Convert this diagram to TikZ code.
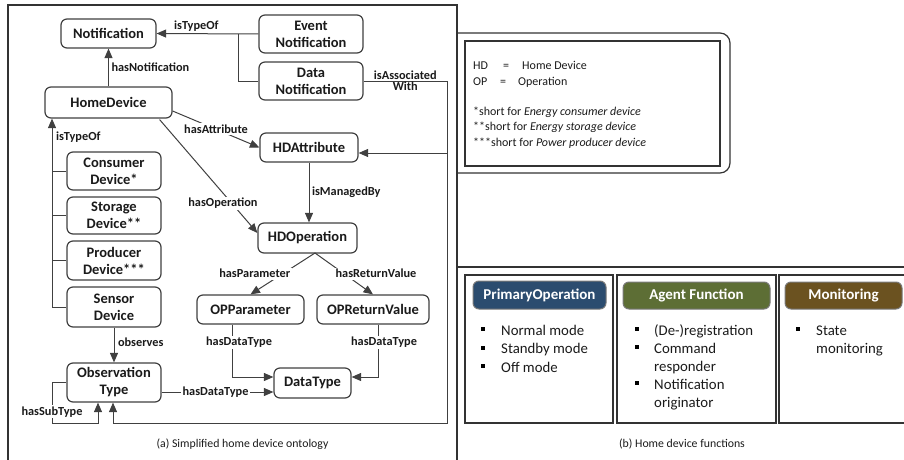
\documentclass[tikz,border=0pt]{standalone}
\usepackage{fontspec}
\setmainfont{Carlito}
\usetikzlibrary{arrows.meta,calc}
\definecolor{ln}{HTML}{404040}
\definecolor{fr}{HTML}{333333}
\definecolor{txt}{HTML}{1A1A1A}
\definecolor{pblue}{HTML}{2B4C6F}
\definecolor{pgreen}{HTML}{5D6E35}
\definecolor{pbrown}{HTML}{6B5220}
\begin{document}
\begin{tikzpicture}[x=1pt,y=-1pt,
  box/.style={draw=ln, line width=1.2pt, rounded corners=6pt, fill=white, align=center,
    font=\fontsize{14.5}{17}\selectfont\bfseries, text=txt, inner sep=0pt},
  sz/.style 2 args={minimum width=#1pt, minimum height=#2pt},
  lbl/.style={font=\fontsize{12.3}{13}\selectfont\bfseries, text=txt, fill=white, inner sep=1.5pt},
  nof/.style={fill=none},
  con/.style={draw=ln, line width=1pt},
  arr/.style={con, -{Triangle[length=9.5pt,width=8pt]}},
  frame/.style={draw=fr, line width=1.2pt},
  leg/.style={font=\fontsize{12}{13}\selectfont, text=txt, anchor=base west, inner sep=0pt},
  hdr/.style={draw=ln!70, line width=1pt, rounded corners=6pt, text=white,
    font=\fontsize{15}{17}\selectfont\bfseries, inner sep=0pt},
  itm/.style={font=\fontsize{14.8}{17}\selectfont, text=txt, anchor=base west, inner sep=0pt},
  bul/.style={fill=black, minimum size=4pt, inner sep=0pt},
  captxt/.style={font=\fontsize{11.8}{13}\selectfont, text=txt, anchor=base, inner sep=0pt}
]
\useasboundingbox (0,0) rectangle (904,460);

% frames
\draw[frame] (8,470) -- (8,5) -- (457,5) -- (457,470);
\draw[frame] (457,267) -- (915,267);
\draw[frame, rounded corners=10pt] (457,33) -- (730,33) -- (730,173) -- (457,173);
\draw[frame] (465,41) rectangle (720,166);

% nodes
\node[box, sz={95}{29}] (notif) at (108.5,33.5) {Notification};
\node[box, sz={104}{38}] (event) at (311,34) {Event\\Notification};
\node[box, sz={104}{38}] (data) at (311,81) {Data\\Notification};
\node[box, sz={127}{31}] (home) at (108.5,102.5) {HomeDevice};
\node[box, sz={98}{29}] (hdattr) at (309,147.5) {HDAttribute};
\node[box, sz={94}{38}] (cons) at (114,171) {Consumer\\Device*};
\node[box, sz={94}{37}] (stor) at (114,215.5) {Storage\\Device**};
\node[box, sz={94}{39}] (prod) at (114,260.5) {Producer\\Device***};
\node[box, sz={94}{40}] (sens) at (114,307) {Sensor\\Device};
\node[box, sz={99}{30}] (hdop) at (307.5,238) {HDOperation};
\node[box, sz={107}{29}] (opp) at (250.5,309.5) {OPParameter};
\node[box, sz={112}{29}] (opr) at (373,309.5) {OPReturnValue};
\node[box, sz={94}{39}] (obs) at (114,382.5) {Observation\\Type};
\node[box, sz={77}{30}] (dt) at (312.5,383) {DataType};

% coordinates
\coordinate (j1) at (238,34);
\coordinate (c1) at (447,81);
\coordinate (c2) at (447,423);
\coordinate (c3) at (113,423);
\coordinate (c4) at (447,153);
\coordinate (t1) at (52,307);
\coordinate (s1) at (52,423);
\coordinate (sp) at (315,253);

% connectors
\draw[arr] (event.west) -- node[lbl, nof, above=0pt, pos=0.61]{isTypeOf} (notif.east);
\draw[con] (data.west) -| (j1);
\draw[arr] (home.north) -- node[lbl, nof, right=1pt]{hasNotification} (notif.south);
\draw[arr] (data.east) -- node[lbl, nof, above=-1pt]{isAssociated} node[lbl, nof, below=-1pt]{With} (c1) -- (c2) -- (c3) -- (c3 |- obs.south);
\draw[arr] (c4) -- (c4 -| hdattr.east);
\draw[arr] ($(home.east)+(0,8.5)$) -- node[lbl]{hasAttribute} (hdattr.west);
\draw[arr] ($(home.south east)+(-13,1)$) -- node[lbl, pos=0.74, xshift=-9]{hasOperation} ($(hdop.west)+(0,-5)$);
\draw[arr] (hdattr.south) -- node[lbl, nof, right=1pt]{isManagedBy} (hdattr.south |- hdop.north);
\draw[arr] (sp) -- node[lbl, xshift=-28]{hasParameter} (opp.north);
\draw[arr] (sp) -- node[lbl, xshift=32]{hasReturnValue} (opr.north);
\draw[arr] ($(opp.south)+(-18.5,0)$) |- node[lbl, pos=0.17, xshift=7]{hasDataType} ($(dt.west)+(0,-6)$);
\draw[arr] ($(opr.south)+(5,0)$) |- node[lbl, pos=0.17, xshift=6]{hasDataType} ($(dt.east)+(0,-6)$);
\draw[arr] ($(obs.east)+(0,9.5)$) -- node[lbl, xshift=-2]{hasDataType} ($(dt.west)+(0,9)$);
\draw[arr] (sens.south) -- node[lbl, nof, right=2pt, pos=0.42]{observes} (obs.north);
\draw[arr] (sens.west) -- (t1) -- node[lbl, nof, right=2pt, pos=0.9]{isTypeOf} (t1 |- home.south);
\draw[con] (cons.west) -- (cons.west -| t1);
\draw[con] (stor.west) -- (stor.west -| t1);
\draw[con] (prod.west) -- (prod.west -| t1);
\draw[arr] (obs.west) -| node[lbl, pos=0.86]{hasSubType} (s1) -| ($(obs.south)+(-16,0)$);

% legend
\node[leg] (l1) at (473,70) {HD};
\node[leg] (l2) at (503,70) {=};
\node[leg] (l3) at (522,70) {Home Device};
\node[leg] (l4) at (473,85) {OP};
\node[leg] (l5) at (500,85) {=};
\node[leg] (l6) at (518,85) {Operation};
\node[leg] (l7) at (473,115) {*short for \textit{Energy consumer device}};
\node[leg] (l8) at (473,130.5) {**short for \textit{Energy storage device}};
\node[leg] (l9) at (473,146) {***short for \textit{Power producer device}};

% function boxes
\draw[frame] (465,275) rectangle (613,423);
\draw[frame] (617,275) rectangle (776,423);
\draw[frame] (779,275) rectangle (915,423);
\node[hdr, fill=pblue, sz={133}{28}] (h1) at (539.5,295) {PrimaryOperation};
\node[hdr, fill=pgreen, sz={147}{27}] (h2) at (696.5,295.5) {Agent Function};
\node[hdr, fill=pbrown, sz={117}{27}] (h3) at (843.5,295.5) {Monitoring};

\node[bul] (b1) at (483,329) {};
\node[bul] (b2) at (483,347.5) {};
\node[bul] (b3) at (483,366) {};
\node[itm] (i1) at (501,335) {Normal mode};
\node[itm] (i2) at (501,353.5) {Standby mode};
\node[itm] (i3) at (501,372) {Off mode};

\node[bul] (b4) at (637,329) {};
\node[bul] (b5) at (637,347) {};
\node[bul] (b6) at (637,383) {};
\node[itm] (i4) at (654,335) {(De-)registration};
\node[itm] (i5) at (654,353) {Command};
\node[itm] (i6) at (654,371) {responder};
\node[itm] (i7) at (654,389) {Notification};
\node[itm] (i8) at (654,407) {originator};

\node[bul] (b7) at (798,329) {};
\node[itm] (i9) at (816,335) {State};
\node[itm] (i10) at (816,353) {monitoring};

% captions
\node[captxt] (capa) at (242.5,447) {(a) Simplified home device ontology};
\node[captxt] (capb) at (682,447) {(b) Home device functions};
\end{tikzpicture}
\end{document}
